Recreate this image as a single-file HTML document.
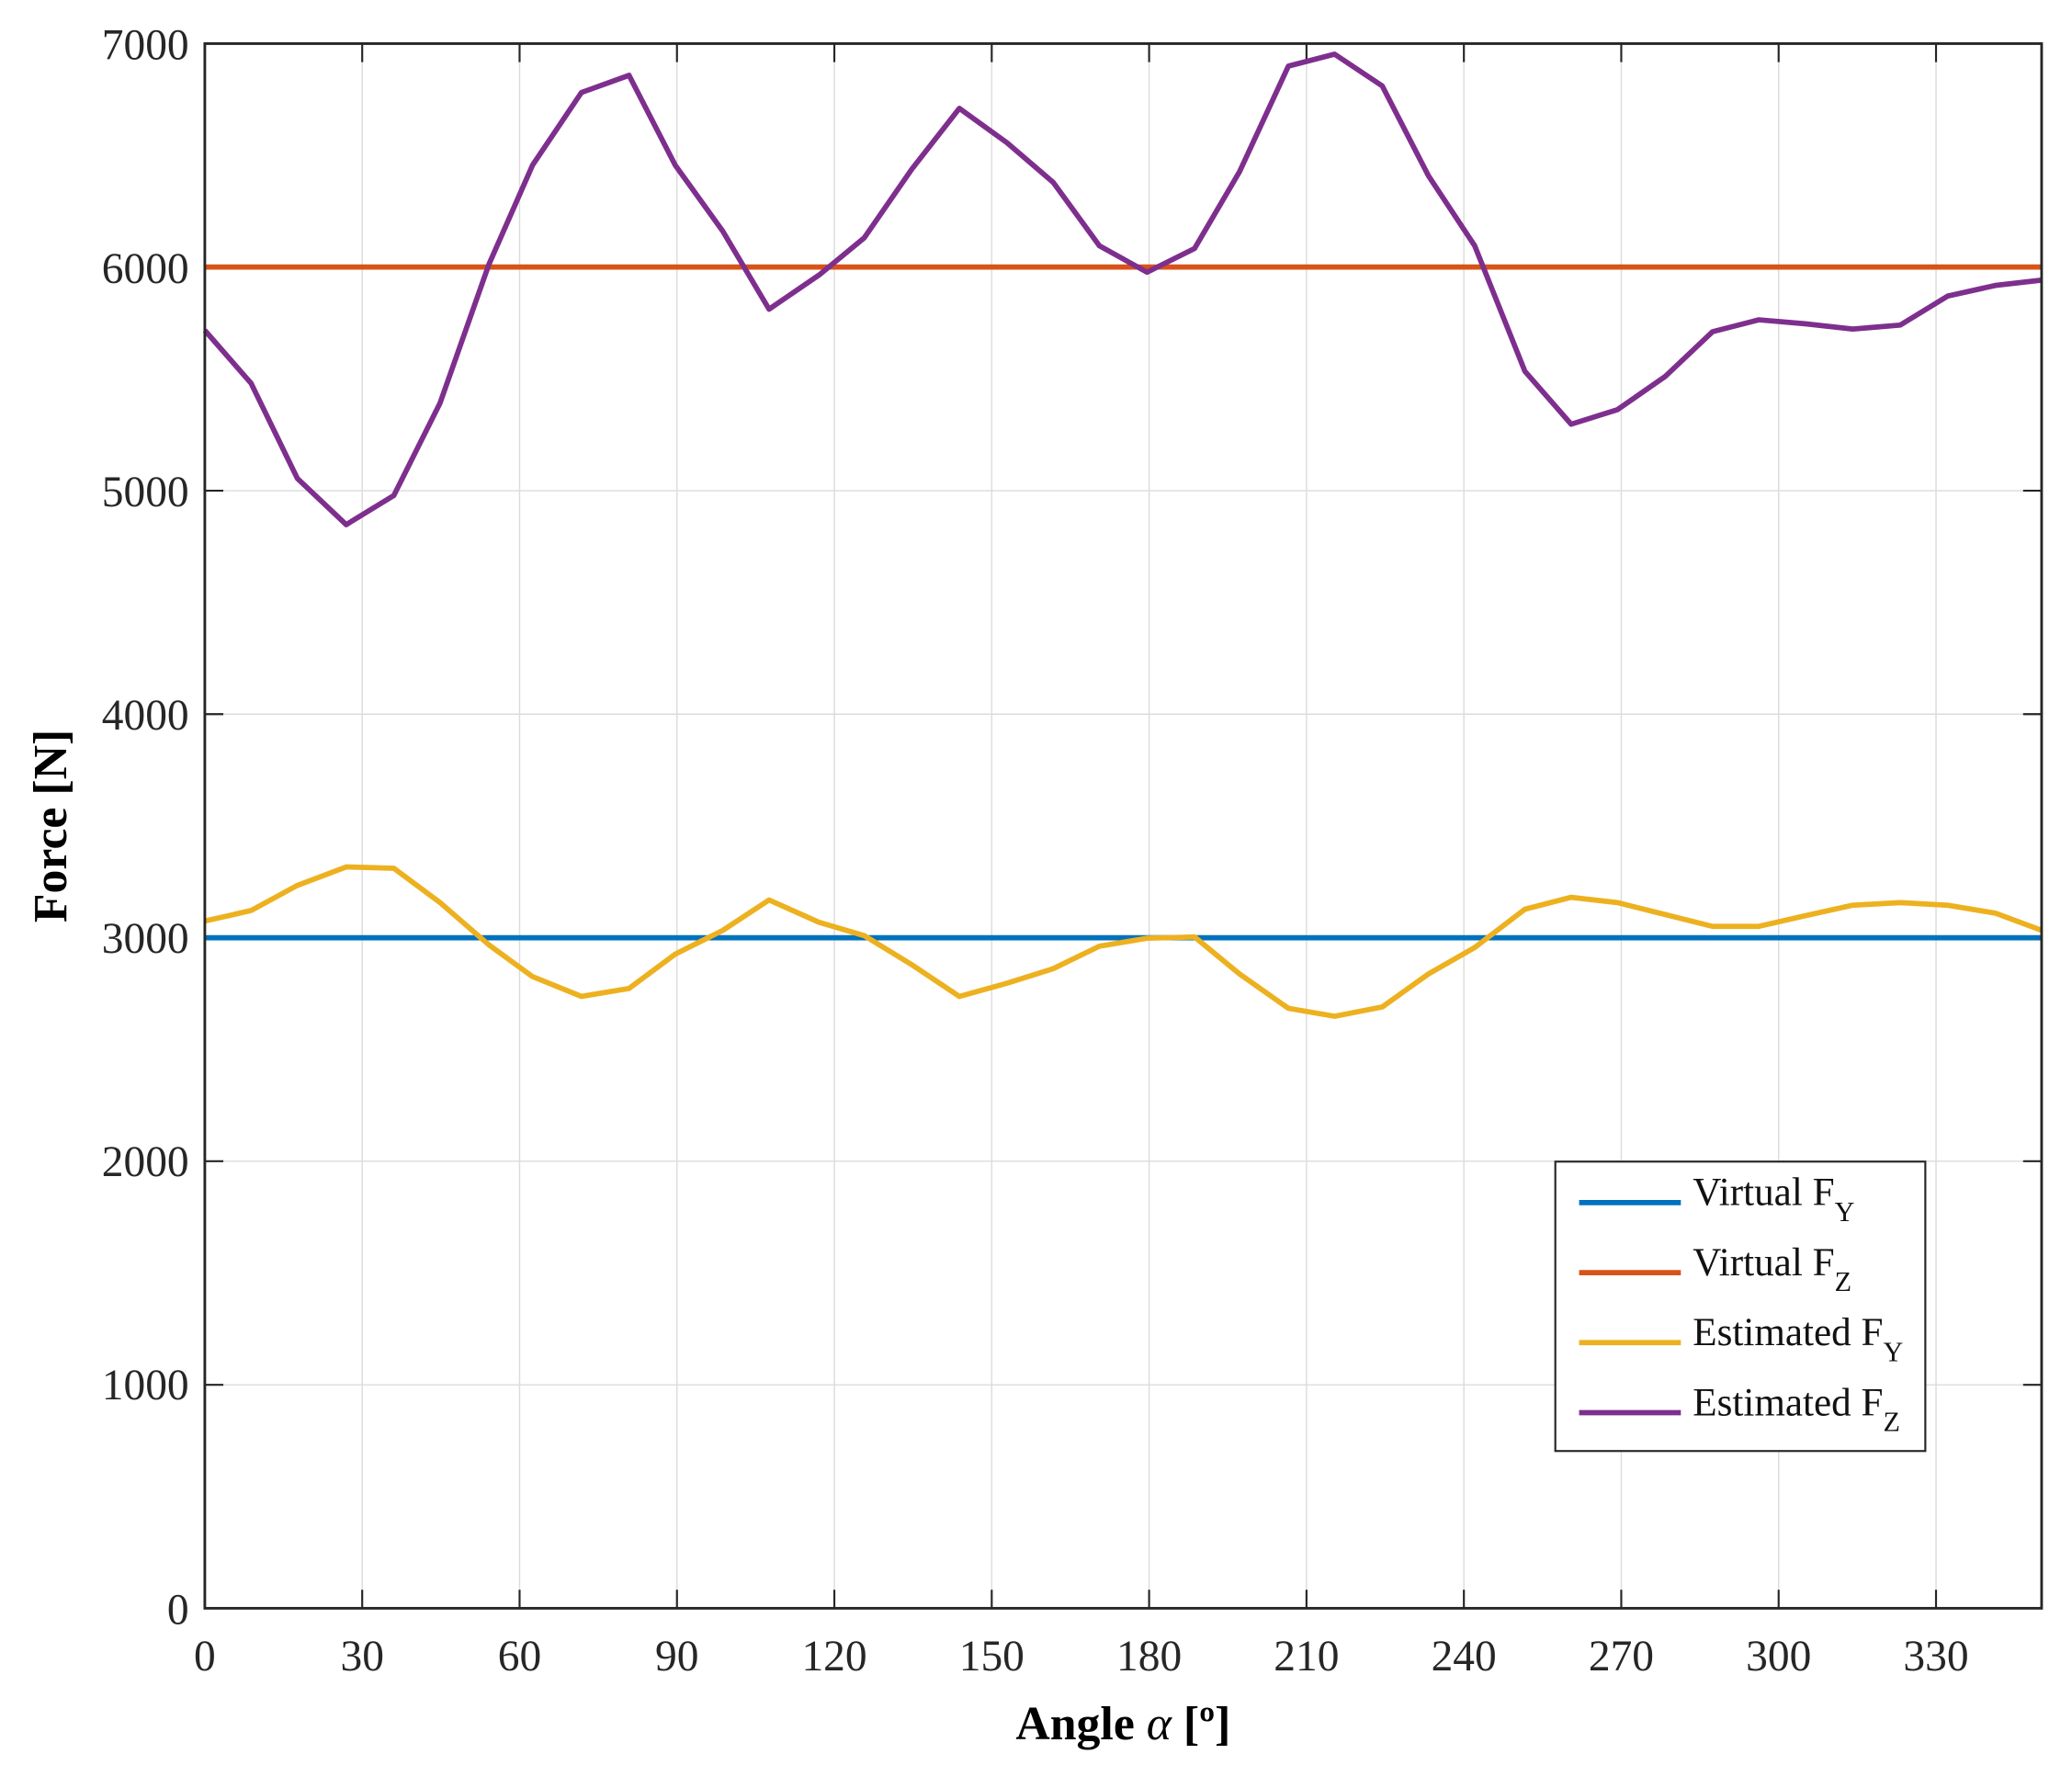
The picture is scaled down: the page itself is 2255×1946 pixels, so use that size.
<!DOCTYPE html>
<html><head><style>html,body{margin:0;padding:0;background:#fff;}svg{display:block;}</style></head>
<body>
<svg width="2255" height="1946" viewBox="0 0 1568 1353" preserveAspectRatio="none" xmlns="http://www.w3.org/2000/svg" font-family="'Liberation Serif', serif">
<rect width="1568" height="1353" fill="#fff"/>
<g stroke="#dcdcdc" stroke-width="1">
<line x1="274.1" y1="33" x2="274.1" y2="1217"/><line x1="393.2" y1="33" x2="393.2" y2="1217"/><line x1="512.3" y1="33" x2="512.3" y2="1217"/><line x1="631.4" y1="33" x2="631.4" y2="1217"/><line x1="750.5" y1="33" x2="750.5" y2="1217"/><line x1="869.6" y1="33" x2="869.6" y2="1217"/><line x1="988.7" y1="33" x2="988.7" y2="1217"/><line x1="1107.8" y1="33" x2="1107.8" y2="1217"/><line x1="1226.9" y1="33" x2="1226.9" y2="1217"/><line x1="1346" y1="33" x2="1346" y2="1217"/><line x1="1465.1" y1="33" x2="1465.1" y2="1217"/>
<line x1="155" y1="202.1" x2="1545" y2="202.1"/><line x1="155" y1="371.3" x2="1545" y2="371.3"/><line x1="155" y1="540.4" x2="1545" y2="540.4"/><line x1="155" y1="709.6" x2="1545" y2="709.6"/><line x1="155" y1="878.7" x2="1545" y2="878.7"/><line x1="155" y1="1047.9" x2="1545" y2="1047.9"/>
</g>
<g stroke="#262626" stroke-width="1.5">
<path d="M274.1 1217v-14M393.2 1217v-14M512.3 1217v-14M631.4 1217v-14M750.5 1217v-14M869.6 1217v-14M988.7 1217v-14M1107.8 1217v-14M1226.9 1217v-14M1346 1217v-14M1465.1 1217v-14"/>
<path d="M274.1 33v14M393.2 33v14M512.3 33v14M631.4 33v14M750.5 33v14M869.6 33v14M988.7 33v14M1107.8 33v14M1226.9 33v14M1346 33v14M1465.1 33v14"/>
<path d="M155 202.1h14M155 371.3h14M155 540.4h14M155 709.6h14M155 878.7h14M155 1047.9h14"/>
<path d="M1545 202.1h-14M1545 371.3h-14M1545 540.4h-14M1545 709.6h-14M1545 878.7h-14M1545 1047.9h-14"/>
</g>
<line x1="155" y1="709.6" x2="1545" y2="709.6" stroke="#0072BD" stroke-width="4"/>
<line x1="155" y1="202.1" x2="1545" y2="202.1" stroke="#D95319" stroke-width="4"/>
<polyline fill="none" stroke="#EDB120" stroke-width="4" stroke-linejoin="round" points="155,697 190,689 225,670 262,656 298,657 333,683 370,715 403,739 440,754 476,748 511,722 547,704 582,681 620,698 654,708 690,730 726,754 762,744 797,733 832,716 868,710 904,709 938,737 975,763 1010,769 1046,762 1081,737 1116,717 1154,688 1189,679 1224,683 1260,692 1296,701 1331,701 1366,693 1402,685 1438,683 1474,685 1510,691 1545,704"/>
<polyline fill="none" stroke="#7E2F8E" stroke-width="4" stroke-linejoin="round" points="155,250 190,290 225,362 262,397 298,375 333,305 370,200 403,125 440,70 476,57 511,125 547,175 582,234 620,208 654,180 690,128 726,82 762,108 797,138 832,186 868,206 904,188 938,130 975,50 1010,41 1046,65 1081,133 1116,186 1154,281 1189,321 1224,310 1260,285 1296,251 1331,242 1366,245 1402,249 1438,246 1474,224 1510,216 1545,212"/>
<rect x="155" y="33" width="1390" height="1184" fill="none" stroke="#262626" stroke-width="2"/>
<g font-size="33" fill="#262626" text-anchor="end">
<text x="143" y="45">7000</text><text x="143" y="214">6000</text><text x="143" y="383">5000</text><text x="143" y="552">4000</text><text x="143" y="721">3000</text><text x="143" y="890">2000</text><text x="143" y="1059">1000</text><text x="143" y="1229">0</text>
</g>
<g font-size="33" fill="#262626" text-anchor="middle">
<text x="155" y="1264">0</text><text x="274.1" y="1264">30</text><text x="393.2" y="1264">60</text><text x="512.3" y="1264">90</text><text x="631.4" y="1264">120</text><text x="750.5" y="1264">150</text><text x="869.6" y="1264">180</text><text x="988.7" y="1264">210</text><text x="1107.8" y="1264">240</text><text x="1226.9" y="1264">270</text><text x="1346" y="1264">300</text><text x="1465.1" y="1264">330</text>
</g>
<text x="850" y="1316" font-size="36" font-weight="bold" text-anchor="middle">Angle <tspan font-style="italic" font-weight="normal">α</tspan> [º]</text>
<text transform="translate(50,625) rotate(-90)" font-size="36" font-weight="bold" text-anchor="middle">Force [N]</text>
<rect x="1177" y="879" width="280" height="219" fill="#fff" stroke="#262626" stroke-width="1.5"/>
<line x1="1195" y1="910" x2="1272" y2="910" stroke="#0072BD" stroke-width="4"/>
<line x1="1195" y1="963" x2="1272" y2="963" stroke="#D95319" stroke-width="4"/>
<line x1="1195" y1="1016" x2="1272" y2="1016" stroke="#EDB120" stroke-width="4"/>
<line x1="1195" y1="1069" x2="1272" y2="1069" stroke="#7E2F8E" stroke-width="4"/>
<g font-size="30" fill="#111">
<text x="1281" y="912">Virtual F<tspan font-size="21" dy="12">Y</tspan></text>
<text x="1281" y="965">Virtual F<tspan font-size="21" dy="12">Z</tspan></text>
<text x="1281" y="1018">Estimated F<tspan font-size="21" dy="12">Y</tspan></text>
<text x="1281" y="1071">Estimated F<tspan font-size="21" dy="12">Z</tspan></text>
</g>
</svg>
</body></html>
